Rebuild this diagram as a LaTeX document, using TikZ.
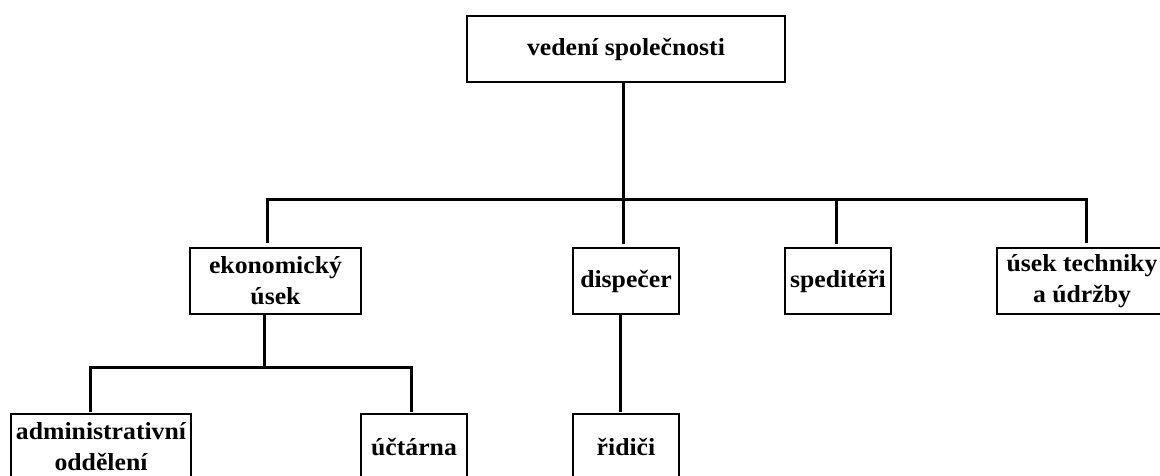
\documentclass[tikz,border=0pt]{standalone}
\usepackage{fontspec}
\newfontfamily\orgfont{Liberation Serif}[FakeStretch=1.05]
\tikzset{
  unit/.style={draw=black, line width=1.1pt, inner sep=0pt, align=center,
    font=\orgfont\bfseries\fontsize{24.5}{31}\selectfont},
  link/.style={line width=3pt, line join=miter}
}
\begin{document}
\begin{tikzpicture}[x=1pt, y=-1pt]
  \useasboundingbox (0,0) rectangle (1160,476);
  \fill[white] (0,0) rectangle (1160,476);
  \clip (0,0) rectangle (1160,476);

  % top management
  \node[unit, minimum width=318pt, minimum height=66pt] (top) at (626,49) {vedení společnosti};

  % second level
  \node[unit, minimum width=171pt, minimum height=66pt] (eko)  at (275.5,281) {ekonomický\\úsek};
  \node[unit, minimum width=106pt, minimum height=66pt] (disp) at (626,281) {dispečer};
  \node[unit, minimum width=106pt, minimum height=66pt] (sped) at (838,281) {speditéři};
  \node[unit, minimum width=170pt, minimum height=66pt] (usek) at (1082,281) {úsek techniky\\a údržby};

  % third level
  \node[unit, minimum width=180pt, minimum height=66pt] (admin) at (101,447) {administrativní\\oddělení};
  \node[unit, minimum width=106pt, minimum height=66pt] (uct)   at (414,447) {účtárna};
  \node[unit, minimum width=106pt, minimum height=66pt] (rid)   at (626,447) {řidiči};

  % connector positions
  \coordinate (xa) at (267,200);
  \coordinate (xb) at (623,200);
  \coordinate (xc) at (836,200);
  \coordinate (xd) at (1086,200);
  \coordinate (ya) at (264,367);
  \coordinate (yb) at (90,367);
  \coordinate (yc) at (411,367);
  \coordinate (zc) at (620,0);

  % upper tree
  \draw[link] ([yshift=4pt]eko.north -| xa) |- (xd) -- ([yshift=4pt]usek.north -| xd);
  \draw[link] (top.south -| xb) -- ([yshift=3pt]disp.north -| xb);
  \draw[link] (xc) -- ([yshift=3pt]sped.north -| xc);

  % economic branch
  \draw[link] (eko.south -| ya) -- (ya);
  \draw[link] ([yshift=1pt]admin.north -| yb) |- (ya) -| ([yshift=1pt]uct.north -| yc);

  % dispatcher branch
  \draw[link] (disp.south -| zc) -- ([yshift=1pt]rid.north -| zc);
\end{tikzpicture}
\end{document}
